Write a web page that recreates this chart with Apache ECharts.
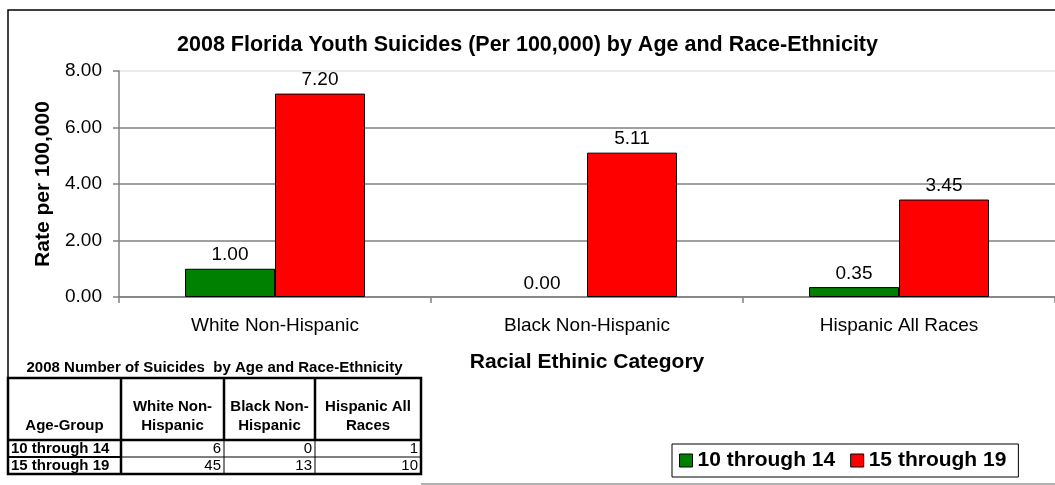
<!DOCTYPE html>
<html>
<head>
<meta charset="utf-8">
<script src="https://cdn.jsdelivr.net/npm/echarts@6/dist/echarts.min.js"></script>
<style>
html,body{margin:0;padding:0;background:#fff;}
#chart{width:1055px;height:485px;}
</style>
</head>
<body>
<div id="chart"></div>
<script>
// ---- data ----
const categories = ['White Non-Hispanic', 'Black Non-Hispanic', 'Hispanic All Races'];
const seriesNames = ['10 through 14', '15 through 19'];
const rate10to14 = [1.00, 0.00, 0.35];
const rate15to19 = [7.20, 5.11, 3.45];
const yTicks = [0, 2, 4, 6, 8];

const tableTitle = '2008 Number of Suicides  by Age and Race-Ethnicity';
const tableHeaders = ['Age-Group', 'White Non-\nHispanic', 'Black Non-\nHispanic', 'Hispanic All\nRaces'];
const ageGroups = ['10 through 14', '15 through 19'];
const count10to14 = [6, 0, 1];
const count15to19 = [45, 13, 10];

// ---- styling ----
const FONT = "'Liberation Sans', Arial, sans-serif";
const GREEN = '#008000';
const RED = '#FF0000';

// ---- table graphic ----
const colX = [8, 121, 224, 315, 421];
const tTop = 378, tHeadBottom = 440, rowH = 17;
const rows = [[ageGroups[0]].concat(count10to14), [ageGroups[1]].concat(count15to19)];
const tBottom = tHeadBottom + rowH * rows.length;
const g = [];
// chart frame
g.push({type: 'polyline', shape: {points: [[8, tTop], [8, 10], [1060, 10]]}, style: {stroke: '#000', lineWidth: 1.5, fill: null}, silent: true});
g.push({type: 'line', shape: {x1: colX[4], y1: 484, x2: 1060, y2: 484}, style: {stroke: '#9a9a9a', lineWidth: 1.5}, silent: true});
// table title
g.push({type: 'text', x: (colX[0] + colX[4]) / 2, y: 368, style: {text: tableTitle, font: 'bold 15px ' + FONT, fill: '#000', align: 'center', verticalAlign: 'middle'}});
// table box
g.push({type: 'rect', shape: {x: colX[0], y: tTop, width: colX[4] - colX[0], height: tBottom - tTop}, style: {fill: '#fff', stroke: '#000', lineWidth: 2.5}, z: 10});
// header bottom
g.push({type: 'line', shape: {x1: colX[0], y1: tHeadBottom, x2: colX[4], y2: tHeadBottom}, style: {stroke: '#000', lineWidth: 2.5}, z: 11});
// vertical lines
for (let c = 1; c < colX.length - 1; c++) {
  g.push({type: 'line', shape: {x1: colX[c], y1: tTop, x2: colX[c], y2: tHeadBottom}, style: {stroke: '#000', lineWidth: 2.5}, z: 11});
  g.push({type: 'line', shape: {x1: colX[c], y1: tHeadBottom, x2: colX[c], y2: tBottom}, style: {stroke: '#000', lineWidth: c === 1 ? 2.5 : 1}, z: 11});
}
// row separators
for (let r = 1; r < rows.length; r++) {
  const y = tHeadBottom + rowH * r;
  g.push({type: 'line', shape: {x1: colX[0], y1: y, x2: colX[1], y2: y}, style: {stroke: '#000', lineWidth: 2}, z: 11});
  g.push({type: 'line', shape: {x1: colX[1], y1: y, x2: colX[4], y2: y}, style: {stroke: '#000', lineWidth: 1}, z: 11});
}
// header texts
tableHeaders.forEach((h, c) => {
  g.push({type: 'text', x: (colX[c] + colX[c + 1]) / 2, y: tHeadBottom - 5, z: 12,
    style: {text: h, font: 'bold 15px ' + FONT, fill: '#000', align: 'center', verticalAlign: 'bottom', lineHeight: 19}});
});
// data rows
rows.forEach((row, r) => {
  const cy = tHeadBottom + rowH * r + rowH / 2 + 0.5;
  row.forEach((v, c) => {
    if (c === 0) {
      g.push({type: 'text', x: colX[0] + 3, y: cy, z: 12, style: {text: String(v), font: 'bold 15px ' + FONT, fill: '#000', align: 'left', verticalAlign: 'middle'}});
    } else {
      g.push({type: 'text', x: colX[c + 1] - 3, y: cy, z: 12, style: {text: String(v), font: '15px ' + FONT, fill: '#000', align: 'right', verticalAlign: 'middle'}});
    }
  });
});

const chart = echarts.init(document.getElementById('chart'), null, {renderer: 'canvas'});
const labelCfg = {show: true, position: 'top', distance: 4, color: '#000', fontFamily: FONT, fontSize: 19,
  formatter: p => Number(p.value).toFixed(2)};
// zero-height bars get no outline (as in the original)
const barData = vals => vals.map(v => v === 0 ? {value: v, itemStyle: {borderWidth: 0}} : v);

chart.setOption({
  animation: false,
  backgroundColor: '#fff',
  title: {
    text: '2008 Florida Youth Suicides (Per 100,000) by Age and Race-Ethnicity',
    left: 'center', top: 29,
    textStyle: {fontFamily: FONT, fontSize: 21.5, fontWeight: 'bold', color: '#000'}
  },
  legend: {
    data: seriesNames,
    left: 672, top: 444,
    orient: 'horizontal',
    padding: [6, 12, 6, 7],
    itemGap: 15,
    itemWidth: 13, itemHeight: 13,
    icon: 'rect',
    borderColor: '#000', borderWidth: 1,
    backgroundColor: '#fff',
    itemStyle: {borderColor: '#000', borderWidth: 1},
    textStyle: {fontFamily: FONT, fontSize: 21, fontWeight: 'bold', color: '#000', lineHeight: 21}
  },
  grid: {left: 119, right: -3.5, top: 71, bottom: 188, containLabel: false},
  xAxis: {
    type: 'category',
    data: categories,
    name: 'Racial Ethinic Category',
    nameLocation: 'middle',
    nameGap: 55,
    nameTextStyle: {fontFamily: FONT, fontSize: 21, fontWeight: 'bold', color: '#000'},
    axisLine: {lineStyle: {color: '#808080', width: 1.5}},
    axisTick: {show: true, alignWithLabel: false, length: 6, lineStyle: {color: '#808080', width: 1.5}},
    axisLabel: {fontFamily: FONT, fontSize: 19, color: '#000', margin: 19, interval: 0}
  },
  yAxis: {
    type: 'value',
    min: yTicks[0], max: yTicks[yTicks.length - 1], interval: yTicks[1] - yTicks[0],
    name: 'Rate per 100,000',
    nameLocation: 'middle',
    nameGap: 65,
    nameTextStyle: {fontFamily: FONT, fontSize: 21, fontWeight: 'bold', color: '#000'},
    axisLine: {show: true, lineStyle: {color: '#808080', width: 1.5}},
    axisTick: {show: true, length: 6, lineStyle: {color: '#808080', width: 1.5}},
    axisLabel: {fontFamily: FONT, fontSize: 19, color: '#000', margin: 17, formatter: v => v.toFixed(2)},
    splitLine: {show: true, lineStyle: {color: ['#808080', '#808080', '#808080', '#808080', '#e3e3e3'], width: 1.5}}
  },
  series: [
    {name: seriesNames[0], type: 'bar', data: barData(rate10to14), barWidth: 90, barGap: '0%',
      itemStyle: {color: GREEN, borderColor: '#000', borderWidth: 1}, label: labelCfg},
    {name: seriesNames[1], type: 'bar', data: barData(rate15to19), barWidth: 90, barGap: '0%',
      itemStyle: {color: RED, borderColor: '#000', borderWidth: 1}, label: labelCfg}
  ],
  graphic: {elements: g}
});
</script>
</body>
</html>
